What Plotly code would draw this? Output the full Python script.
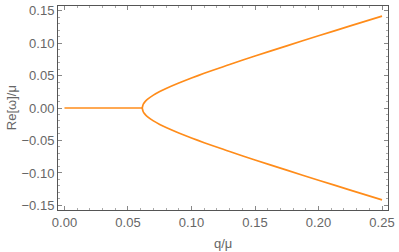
import plotly.graph_objects as go

# q/mu values along the stable (zero) branch
q_zero = [0.0, 0.02, 0.04, 0.0612]
re_zero = [0.0, 0.0, 0.0, 0.0]

# q/mu values along the split branch (upper half)
q_branch = [0.0612, 0.062, 0.063, 0.065, 0.07, 0.075, 0.08, 0.09, 0.10, 0.11,
            0.125, 0.13, 0.15, 0.175, 0.20, 0.225, 0.25]
re_upper = [0.0, 0.0058, 0.0087, 0.0128, 0.0198, 0.0253, 0.0301, 0.0385, 0.0462,
            0.0534, 0.0636, 0.0670, 0.0800, 0.0957, 0.1112, 0.1264, 0.1415]
re_lower = [-v for v in re_upper]

x_ticks = [0.00, 0.05, 0.10, 0.15, 0.20, 0.25]
x_tick_text = ["0.00", "0.05", "0.10", "0.15", "0.20", "0.25"]
y_ticks = [-0.15, -0.10, -0.05, 0.00, 0.05, 0.10, 0.15]
y_tick_text = ["\u22120.15", "\u22120.10", "\u22120.05", "0.00", "0.05", "0.10", "0.15"]

orange = "#ff8c1a"
font_family = "Liberation Sans, Arial, sans-serif"
label_color = "#666"

fig = go.Figure()
fig.add_trace(go.Scatter(x=q_zero, y=re_zero, mode="lines",
                         line=dict(color=orange, width=1.7), showlegend=False))
fig.add_trace(go.Scatter(x=q_branch[::-1] + q_branch, y=re_lower[::-1] + re_upper,
                         mode="lines", line=dict(color=orange, width=1.7, shape="spline", smoothing=0.6),
                         showlegend=False))

axis_common = dict(
    showgrid=False, zeroline=False, showline=True, linecolor="#555", linewidth=1,
    mirror="ticks", ticks="inside", ticklen=4, tickcolor="#888", tickwidth=1,
    automargin=False,
    tickfont=dict(family=font_family, size=13, color=label_color),
)

fig.update_xaxes(range=[-0.0051, 0.2547], tickvals=x_ticks, ticktext=x_tick_text,
                 minor=dict(dtick=0.01, tick0=0, ticks="inside", ticklen=2, tickcolor="#aaa"),
                 **axis_common)
fig.update_yaxes(range=[-0.157, 0.157], tickvals=y_ticks, ticktext=y_tick_text,
                 minor=dict(dtick=0.01, tick0=0, ticks="inside", ticklen=2, tickcolor="#aaa"),
                 **axis_common)

fig.add_annotation(text="q/\u03bc", xref="paper", yref="paper", x=0.5, y=-0.165,
                   xanchor="center", yanchor="middle", showarrow=False,
                   font=dict(family=font_family, size=13, color=label_color))
fig.add_annotation(text="Re[\u03c9]/\u03bc", xref="paper", yref="paper", x=-0.142, y=0.5,
                   xanchor="center", yanchor="middle", showarrow=False, textangle=-90,
                   font=dict(family=font_family, size=13, color=label_color))

fig.update_layout(width=399, height=252, margin=dict(l=58, r=11, t=6, b=42),
                  plot_bgcolor="white", paper_bgcolor="white")

fig.write_html("out.html", config={"displayModeBar": False},
               post_script="document.body.style.margin='0';document.body.style.overflow='hidden';")
